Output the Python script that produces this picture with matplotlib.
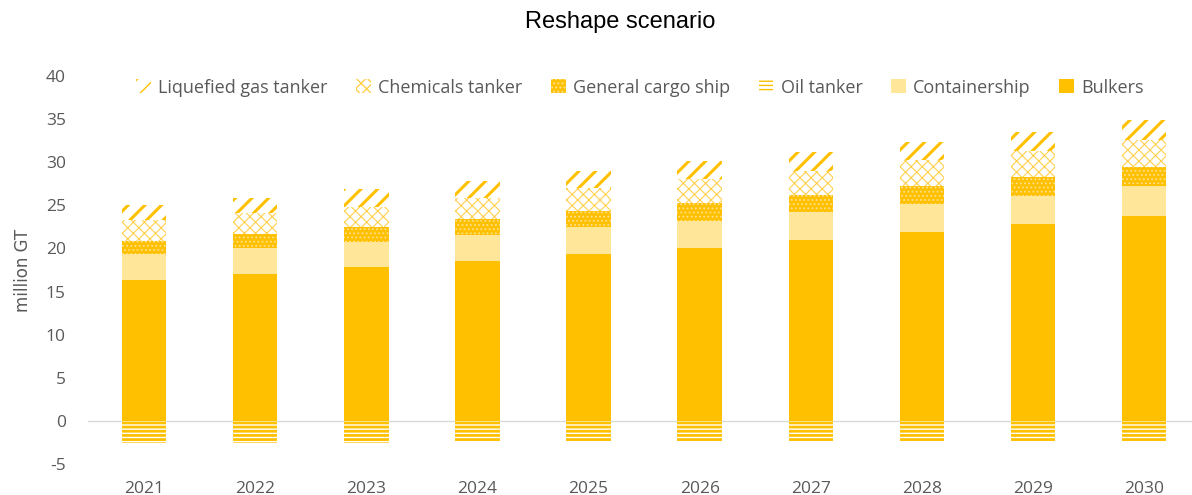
import matplotlib
matplotlib.use("Agg")
import matplotlib.pyplot as plt
import numpy as np

years = ["2021", "2022", "2023", "2024", "2025", "2026", "2027", "2028", "2029", "2030"]

bulkers = [16.3, 17.0, 17.8, 18.5, 19.3, 20.1, 21.0, 21.9, 22.8, 23.8]
containership = [3.1, 3.0, 3.0, 3.1, 3.2, 3.1, 3.2, 3.3, 3.3, 3.4]
general_cargo = [1.5, 1.7, 1.7, 1.8, 1.8, 2.1, 2.0, 2.0, 2.2, 2.2]
chemicals = [2.4, 2.4, 2.3, 2.4, 2.7, 2.8, 2.8, 3.1, 3.0, 3.2]
liquefied_gas = [1.7, 1.8, 2.1, 2.0, 2.0, 2.0, 2.2, 2.1, 2.2, 2.3]
oil_tanker = [-2.6, -2.6, -2.6, -2.5, -2.5, -2.5, -2.4, -2.4, -2.4, -2.3]

GOLD = "#FFC000"
PALE = "#FFE699"
GREY = "#595959"

plt.rcParams['font.family'] = ['Open Sans', 'DejaVu Sans']
plt.rcParams['axes.unicode_minus'] = False

fig = plt.figure(figsize=(11.92, 4.95), dpi=100)
ax = fig.add_axes([88 / 1192, 31 / 495, 1104 / 1192, 388 / 495])

x = np.arange(len(years))
w = 0.40


def stack(values, bottom, **kw):
    # hatch line width is picked up when the bars are made
    with plt.rc_context({'hatch.linewidth': kw.pop('hlw', 1.0)}):
        bars = ax.bar(x, values, w, bottom=bottom, linewidth=0, **kw)
    return bars


b0 = np.zeros(len(years))
h_bulk = stack(bulkers, b0, color=GOLD, label="Bulkers")
b1 = b0 + np.array(bulkers)
h_cont = stack(containership, b1, color=PALE, label="Containership")
b2 = b1 + np.array(containership)
h_gc = stack(general_cargo, b2, facecolor=GOLD, edgecolor="#FFE08A",
             hatch="....", hlw=0.8, label="General cargo ship")
b3 = b2 + np.array(general_cargo)
h_chem = stack(chemicals, b3, facecolor="white", edgecolor="#FFD04D",
               hatch="xxx", hlw=0.8, label="Chemicals tanker")
b4 = b3 + np.array(chemicals)
h_lg = stack(liquefied_gas, b4, facecolor="white", edgecolor=GOLD,
             hatch="//", hlw=2.2, label="Liquefied gas tanker")
h_oil = stack(oil_tanker, b0, facecolor="white", edgecolor=GOLD,
              hatch="----", hlw=2.0, label="Oil tanker")

ax.axhline(0, color="#D9D9D9", linewidth=1.0, zorder=0.5)

ax.set_xlim(-0.504, 9.43)
ax.set_ylim(-5, 40)
ax.set_yticks(range(-5, 41, 5))
ax.set_xticks(x)
ax.set_xticklabels(years)
ax.tick_params(axis="both", length=0, labelsize=12.5, labelcolor=GREY)
ax.tick_params(axis="y", pad=16)
ax.tick_params(axis="x", pad=12)
for s in ax.spines.values():
    s.set_visible(False)

ax.set_ylabel("million GT", fontsize=12, color=GREY,
              family=['Liberation Sans Narrow', 'DejaVu Sans'], labelpad=10)

fig.text(0.52, 0.955, "Reshape scenario", ha="center", va="center",
         fontsize=17, color="black", family=['Liberation Sans', 'DejaVu Sans'])

ax.legend(handles=[h_lg, h_chem, h_gc, h_oil, h_cont, h_bulk],
          loc="center", bbox_to_anchor=(0.5, 0.97), ncol=6, frameon=False,
          fontsize=13, labelcolor=GREY, handlelength=0.8, handleheight=0.8,
          handletextpad=0.4, columnspacing=1.6)

fig.savefig("out.png", dpi=100)
